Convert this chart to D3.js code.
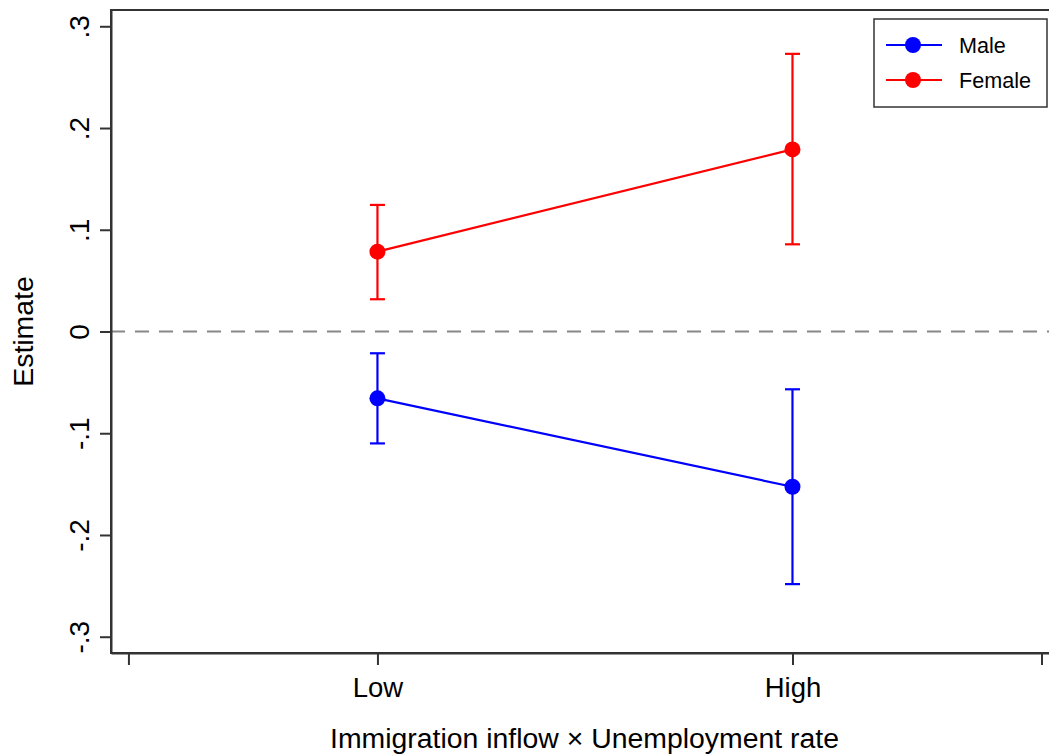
<!DOCTYPE html>
<html>
<head>
<meta charset="utf-8">
<script src="https://cdn.jsdelivr.net/npm/d3@7/dist/d3.min.js"></script>
<style>
  html, body { margin: 0; padding: 0; background: #fff; }
  svg { display: block; font-family: "Liberation Sans", Arial, sans-serif; }
</style>
</head>
<body>
<svg id="chart" width="1049" height="756"></svg>
<script>
// ---- data ----
const categories = ["Low", "High"];
const categoryPos = [1, 2];
const seriesNames = ["Male", "Female"];
const seriesColors = ["#0000ff", "#ff0000"];
const maleEstimate = [-0.0657, -0.1526];
const maleLower = [-0.110, -0.2483];
const maleUpper = [-0.0214, -0.0568];
const femaleEstimate = [0.0785, 0.179];
const femaleLower = [0.0317, 0.0857];
const femaleUpper = [0.1244, 0.2729];
const yTicks = [-0.3, -0.2, -0.1, 0, 0.1, 0.2, 0.3];
const yTickLabels = ["-.3", "-.2", "-.1", "0", ".1", ".2", ".3"];
const xTicks = [0.4, 1, 2, 2.6];
const xTickLabels = ["", "Low", "High", ""];

const svg = d3.select("#chart");
const axisColor = "#333333";

const x = d3.scaleLinear().domain([0.358, 2.7]).range([111, 1083]);
const y = d3.scaleLinear().domain([-0.316, 0.316]).range([653, 10]);

// plot frame (top border + right off-screen)
svg.append("rect")
  .attr("x", x.range()[0]).attr("y", y.range()[1])
  .attr("width", x.range()[1] - x.range()[0])
  .attr("height", y.range()[0] - y.range()[1])
  .attr("fill", "none").attr("stroke", axisColor).attr("stroke-width", 2);

// zero reference line
svg.append("line")
  .attr("x1", x.range()[0]).attr("x2", x.range()[1])
  .attr("y1", y(0)).attr("y2", y(0))
  .attr("stroke", "#888888").attr("stroke-width", 2)
  .attr("stroke-dasharray", "14,10");

// y axis
const yAxis = d3.axisLeft(y).tickValues(yTicks)
  .tickFormat((d, i) => yTickLabels[i]).tickSizeInner(11).tickSizeOuter(0).tickPadding(0);
const gy = svg.append("g").attr("transform", `translate(${x.range()[0]},0)`).call(yAxis);
gy.select(".domain").attr("stroke", axisColor).attr("stroke-width", 2);
gy.selectAll(".tick line").attr("stroke", axisColor).attr("stroke-width", 2);
gy.selectAll(".tick text")
  .attr("x", 0).attr("y", 0).attr("dy", null)
  .attr("transform", "translate(-22,0) rotate(-90)")
  .attr("text-anchor", "middle")
  .attr("fill", "#000").attr("font-size", 28)
  .attr("font-family", "Liberation Sans, Arial, sans-serif");

// x axis
const xAxis = d3.axisBottom(x).tickValues(xTicks)
  .tickFormat((d, i) => xTickLabels[i]).tickSizeInner(12).tickSizeOuter(0).tickPadding(0);
const gx = svg.append("g").attr("transform", `translate(0,${y.range()[0]})`).call(xAxis);
gx.select(".domain").attr("stroke", axisColor).attr("stroke-width", 2);
gx.selectAll(".tick line").attr("stroke", axisColor).attr("stroke-width", 2);
gx.selectAll(".tick text")
  .attr("y", 44).attr("dy", null)
  .attr("fill", "#000").attr("font-size", 27.5)
  .attr("font-family", "Liberation Sans, Arial, sans-serif");

// axis titles
svg.append("text")
  .attr("transform", `translate(33,${y(0)}) rotate(-90)`)
  .attr("text-anchor", "middle").attr("font-size", 28.4).attr("fill", "#000")
  .text("Estimate");
svg.append("text")
  .attr("x", 584.5).attr("y", 748)
  .attr("text-anchor", "middle").attr("font-size", 28.4).attr("fill", "#000")
  .text("Immigration inflow × Unemployment rate");

// series
const series = [
  { name: seriesNames[0], color: seriesColors[0], est: maleEstimate, lo: maleLower, hi: maleUpper },
  { name: seriesNames[1], color: seriesColors[1], est: femaleEstimate, lo: femaleLower, hi: femaleUpper }
];
const capHalf = 7.5;
series.forEach(s => {
  const pts = categoryPos.map((c, i) => ({ c, est: s.est[i], lo: s.lo[i], hi: s.hi[i] }));
  const g = svg.append("g");
  // error bars
  pts.forEach(p => {
    g.append("line").attr("x1", x(p.c)).attr("x2", x(p.c))
      .attr("y1", y(p.lo)).attr("y2", y(p.hi))
      .attr("stroke", s.color).attr("stroke-width", 2.2);
    [p.lo, p.hi].forEach(v => {
      g.append("line").attr("x1", x(p.c) - capHalf).attr("x2", x(p.c) + capHalf)
        .attr("y1", y(v)).attr("y2", y(v))
        .attr("stroke", s.color).attr("stroke-width", 2.2);
    });
  });
  // connecting line
  g.append("path").datum(pts)
    .attr("d", d3.line().x(d => x(d.c)).y(d => y(d.est)))
    .attr("fill", "none").attr("stroke", s.color).attr("stroke-width", 2.2);
  // markers
  g.selectAll("circle").data(pts).join("circle")
    .attr("cx", d => x(d.c)).attr("cy", d => y(d.est)).attr("r", 8)
    .attr("fill", s.color);
});

// legend
const lg = svg.append("g");
lg.append("rect").attr("x", 874).attr("y", 19).attr("width", 173).attr("height", 88)
  .attr("fill", "#fff").attr("stroke", axisColor).attr("stroke-width", 1.5);
series.forEach((s, i) => {
  const yy = 45 + i * 35;
  lg.append("line").attr("x1", 886).attr("x2", 942).attr("y1", yy).attr("y2", yy)
    .attr("stroke", s.color).attr("stroke-width", 2.2);
  lg.append("circle").attr("cx", 913).attr("cy", yy).attr("r", 8).attr("fill", s.color);
  lg.append("text").attr("x", 959).attr("y", yy + 8)
    .attr("font-size", 21.6).attr("fill", "#000").text(s.name);
});
</script>
</body>
</html>
